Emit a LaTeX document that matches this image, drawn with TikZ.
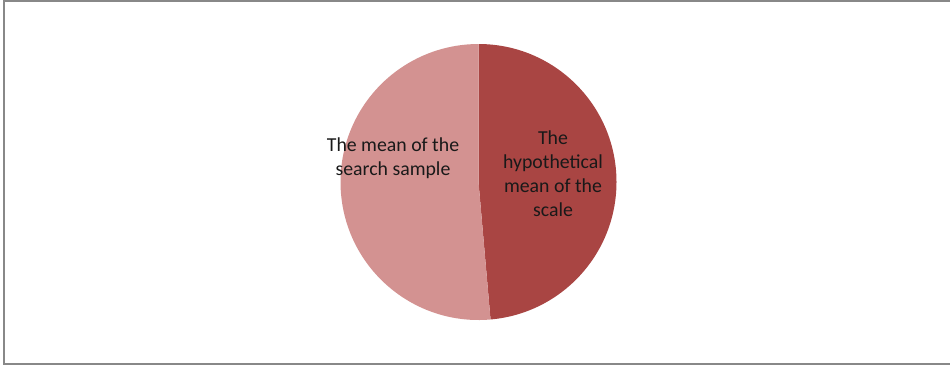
\documentclass[tikz,border=0pt]{standalone}
\usepackage{fontspec}
\setmainfont{Carlito}
\usetikzlibrary{positioning}
\definecolor{darkslice}{HTML}{A94543}
\definecolor{lightslice}{HTML}{D39291}
\definecolor{framegray}{HTML}{888888}
\tikzset{
  pielabel/.style={align=center, text=black!90, font=\fontsize{19.8bp}{24bp}\selectfont, inner sep=0pt}
}
\begin{document}
\begin{tikzpicture}[x=1bp,y=1bp]
\useasboundingbox (0,0) rectangle (950,368);
% chart frame
\draw[framegray, line width=2bp] (955,367) -- (3.8,367) -- (3.8,4.3) -- (955,4.3);
% pie slices
\coordinate (centre) at (478.5,186);
\fill[darkslice] (centre) -- ++(90:138) arc[start angle=90, end angle=-85, radius=138] -- cycle;
\fill[lightslice] (centre) -- ++(-85:138) arc[start angle=-85, end angle=-270, radius=138] -- cycle;
% labels
\node[pielabel] (search) at (393,210) {The mean of the\\search sample};
\node[pielabel] (hypo) at (553,194) {The\\hypothetical\\mean of the\\scale};
\end{tikzpicture}
\end{document}
